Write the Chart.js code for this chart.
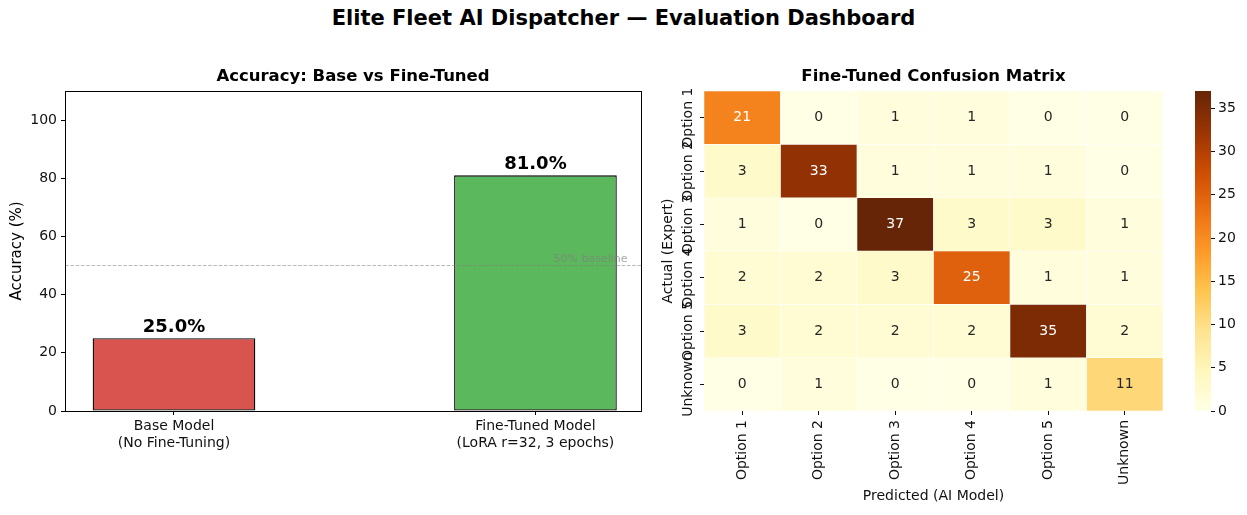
<!DOCTYPE html>
<html>
<head>
<meta charset="utf-8">
<title>Elite Fleet AI Dispatcher — Evaluation Dashboard</title>
<script src="https://cdn.jsdelivr.net/npm/chart.js@4.4.1/dist/chart.umd.min.js"></script>
<style>
  body { margin: 0; background: #fff; width: 1247px; height: 515px; overflow: hidden; position: relative; font-family: "DejaVu Sans", sans-serif; }
  #main-title { position: absolute; top: 6px; left: 0; width: 1247px; text-align: center; font-weight: bold; font-size: 21px; color: #000; line-height: 24px; }
  canvas { position: absolute; }
</style>
</head>
<body>
<div id="main-title">Elite Fleet AI Dispatcher — Evaluation Dashboard</div>
<canvas id="acc-chart" width="660" height="420" style="left:0;top:50px"></canvas>
<canvas id="cm-chart" width="519" height="465" style="left:656px;top:50px"></canvas>
<canvas id="cbar-chart" width="72" height="415" style="left:1175px;top:50px"></canvas>
<script>
// --- data ---
const modelLabels = [['Base Model', '(No Fine-Tuning)'], ['Fine-Tuned Model', '(LoRA r=32, 3 epochs)']];
const accuracyValues = [25.0, 81.0];
const accuracyTicks = [0, 20, 40, 60, 80, 100];
const baselineValue = 50;
const baselineLabel = '50% baseline';

const classLabels = ['Option 1', 'Option 2', 'Option 3', 'Option 4', 'Option 5', 'Unknown'];
const confusion = [
    [21, 0, 1, 1, 0, 0],
    [3, 33, 1, 1, 1, 0],
    [1, 0, 37, 3, 3, 1],
    [2, 2, 3, 25, 1, 1],
    [3, 2, 2, 2, 35, 2],
    [0, 1, 0, 0, 1, 11]
];
const colorbarTicks = [0, 5, 10, 15, 20, 25, 30, 35];

// --- styling ---
const FONT = '"DejaVu Sans", sans-serif';
const barColors = ['#d9534f', '#5cb85c'];
const ylOrBr = ['#ffffe5', '#fff7bc', '#fee391', '#fec44f', '#fe9929', '#ec7014', '#cc4c02', '#993404', '#662506'];
const vmax = Math.max(...confusion.flat());

Chart.defaults.font.family = FONT;
Chart.defaults.color = '#111';
Chart.defaults.animation = false;

function hexToRgb(h) {
    return [parseInt(h.slice(1, 3), 16), parseInt(h.slice(3, 5), 16), parseInt(h.slice(5, 7), 16)];
}

function cmapRgb(t) {
    t = Math.max(0, Math.min(1, t));
    const pos = t * (ylOrBr.length - 1);
    const i = Math.min(Math.floor(pos), ylOrBr.length - 2);
    const f = pos - i;
    const a = hexToRgb(ylOrBr[i]), b = hexToRgb(ylOrBr[i + 1]);
    return a.map((c, k) => Math.round(c + (b[k] - c) * f));
}

function cmap(t) {
    const c = cmapRgb(t);
    return `rgb(${c[0]},${c[1]},${c[2]})`;
}

function luminance(rgb) {
    const lin = rgb.map(c => {
        c /= 255;
        return c <= 0.03928 ? c / 12.92 : Math.pow((c + 0.055) / 1.055, 2.4);
    });
    return 0.2126 * lin[0] + 0.7152 * lin[1] + 0.0722 * lin[2];
}

const noLegend = { legend: { display: false }, tooltip: { enabled: false } };

// --- left: accuracy bars ---
const accPlugin = {
    id: 'accExtras',
    afterDatasetsDraw(chart) {
        const { ctx, chartArea, scales } = chart;
        const yb = scales.y.getPixelForValue(baselineValue);

        ctx.save();
        ctx.strokeStyle = 'rgba(128,128,128,0.55)';
        ctx.lineWidth = 1;
        ctx.setLineDash([3.7, 1.6]);
        ctx.beginPath();
        ctx.moveTo(chartArea.left, yb);
        ctx.lineTo(chartArea.right, yb);
        ctx.stroke();
        ctx.setLineDash([]);

        ctx.fillStyle = 'rgba(128,128,128,0.7)';
        ctx.font = `11px ${FONT}`;
        ctx.textAlign = 'left';
        ctx.textBaseline = 'bottom';
        ctx.fillText(baselineLabel, scales.x.getPixelForValue(1.05), scales.y.getPixelForValue(baselineValue + 0.4));

        // value labels on the bars
        const meta = chart.getDatasetMeta(0);
        ctx.fillStyle = '#000';
        ctx.font = `bold 18px ${FONT}`;
        ctx.textAlign = 'center';
        meta.data.forEach((bar, i) => {
            ctx.fillText(accuracyValues[i].toFixed(1) + '%', bar.x, bar.y - 2);
        });

        // full frame
        ctx.strokeStyle = '#000';
        ctx.lineWidth = 1;
        ctx.strokeRect(Math.round(chartArea.left) + 0.5, Math.round(chartArea.top) + 0.5,
            Math.round(chartArea.right - chartArea.left), Math.round(chartArea.bottom - chartArea.top));
        ctx.restore();
    }
};

new Chart(document.getElementById('acc-chart'), {
    type: 'bar',
    data: {
        datasets: [{
            data: accuracyValues.map((v, i) => ({ x: i, y: v })),
            backgroundColor: barColors,
            borderColor: '#000',
            borderWidth: 1.3,
            borderSkipped: false,
            categoryPercentage: 1,
            barPercentage: 0.45
        }]
    },
    options: {
        responsive: false,
        layout: { padding: { left: 4, right: 19, top: 0, bottom: 0 } },
        plugins: {
            ...noLegend,
            title: {
                display: true,
                fullSize: false,
                text: 'Accuracy: Base vs Fine-Tuned',
                color: '#000',
                font: { size: 16.5, weight: 'bold' },
                padding: { top: 17.1, bottom: 4.1 }
            }
        },
        scales: {
            x: {
                type: 'linear',
                offset: false,
                min: -0.3015,
                max: 1.292,
                afterBuildTicks: s => { s.ticks = modelLabels.map((_, i) => ({ value: i })); },
                afterFit: s => { s.height = 59; },
                grid: { drawOnChartArea: false, drawTicks: true, tickLength: 4, color: '#000', offset: false },
                border: { display: false },
                ticks: { autoSkip: false, maxRotation: 0, padding: 3, font: { size: 14 }, callback: v => modelLabels[v] }
            },
            y: {
                min: 0,
                max: 110,
                afterBuildTicks: s => { s.ticks = accuracyTicks.map(v => ({ value: v })); },
                afterFit: s => { s.width = 61; },
                grid: { drawOnChartArea: false, drawTicks: true, tickLength: 4, color: '#000' },
                border: { display: false },
                ticks: { padding: 4, font: { size: 14 } },
                title: { display: true, text: 'Accuracy (%)', color: '#000', font: { size: 15 }, padding: 4 }
            }
        }
    },
    plugins: [accPlugin]
});

// --- right: confusion matrix ---
const cmPlugin = {
    id: 'cmExtras',
    afterDatasetsDraw(chart) {
        const { ctx, chartArea, scales } = chart;
        ctx.save();
        ctx.font = `14px ${FONT}`;
        ctx.textAlign = 'center';
        ctx.textBaseline = 'middle';
        confusion.forEach((row, r) => {
            row.forEach((v, c) => {
                const lum = luminance(cmapRgb(v / vmax));
                ctx.fillStyle = lum > 0.408 ? '#262626' : '#fff';
                ctx.fillText(String(v), scales.x.getPixelForValue(c), scales.y.getPixelForValue(r + 0.5));
            });
        });

        // rotated row labels
        ctx.fillStyle = '#111';
        classLabels.forEach((lab, r) => {
            ctx.save();
            ctx.translate(chartArea.left - 16, scales.y.getPixelForValue(r + 0.5));
            ctx.rotate(-Math.PI / 2);
            ctx.fillText(lab, 0, 0);
            ctx.restore();
        });
        ctx.restore();
    }
};

new Chart(document.getElementById('cm-chart'), {
    type: 'bar',
    data: {
        labels: classLabels,
        datasets: confusion.map((row, r) => ({
            data: row.map(() => [r, r + 1]),
            backgroundColor: row.map(v => cmap(v / vmax)),
            borderColor: 'rgba(255,255,255,0.85)',
            borderWidth: 0.6,
            borderSkipped: false,
            categoryPercentage: 1,
            barPercentage: 1
        }))
    },
    options: {
        responsive: false,
        layout: { padding: { left: 0, right: 12, top: 0, bottom: 6 } },
        plugins: {
            ...noLegend,
            title: {
                display: true,
                fullSize: false,
                text: 'Fine-Tuned Confusion Matrix',
                color: '#000',
                font: { size: 16.5, weight: 'bold' },
                padding: { top: 17.1, bottom: 4.1 }
            }
        },
        scales: {
            x: {
                stacked: true,
                afterFit: s => { s.height = 98; },
                grid: { drawOnChartArea: false, drawTicks: true, tickLength: 4, color: '#111', offset: false },
                border: { display: false },
                ticks: { autoSkip: false, minRotation: 90, maxRotation: 90, padding: 5, font: { size: 14 } },
                title: { display: true, text: 'Predicted (AI Model)', color: '#111', font: { size: 14 }, padding: 4 }
            },
            y: {
                stacked: false,
                min: 0,
                max: classLabels.length,
                reverse: true,
                afterBuildTicks: s => { s.ticks = classLabels.map((_, i) => ({ value: i + 0.5 })); },
                afterFit: s => { s.width = 48; },
                grid: { drawOnChartArea: false, drawTicks: true, tickLength: 4, color: '#111' },
                border: { display: false },
                ticks: { color: 'rgba(0,0,0,0)', font: { size: 14 } },
                title: { display: true, text: 'Actual (Expert)', color: '#111', font: { size: 14 }, padding: 4 }
            }
        }
    },
    plugins: [cmPlugin]
});

// --- colorbar ---
new Chart(document.getElementById('cbar-chart'), {
    type: 'bar',
    data: {
        labels: [''],
        datasets: [{
            data: [[0, vmax]],
            backgroundColor: ctx => {
                const area = ctx.chart.chartArea;
                if (!area) return ylOrBr[0];
                const g = ctx.chart.ctx.createLinearGradient(0, area.bottom, 0, area.top);
                ylOrBr.forEach((c, i) => g.addColorStop(i / (ylOrBr.length - 1), c));
                return g;
            },
            borderWidth: 0,
            categoryPercentage: 1,
            barPercentage: 1
        }]
    },
    options: {
        responsive: false,
        layout: { padding: { left: 20, right: 0, top: 41, bottom: 54 } },
        plugins: noLegend,
        scales: {
            x: { display: false },
            y: {
                position: 'right',
                min: 0,
                max: vmax,
                afterBuildTicks: s => { s.ticks = colorbarTicks.map(v => ({ value: v })); },
                afterFit: s => { s.width = 36; },
                grid: { drawOnChartArea: false, drawTicks: true, tickLength: 4, color: '#111' },
                border: { display: false },
                ticks: { padding: 3, font: { size: 14 } }
            }
        }
    }
});
</script>
</body>
</html>
